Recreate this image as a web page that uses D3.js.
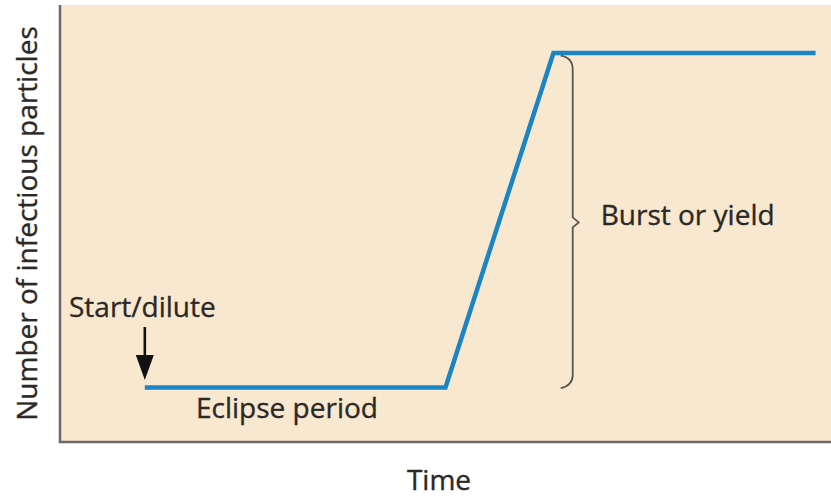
<!DOCTYPE html>
<html>
<head>
<meta charset="utf-8">
<script src="https://cdn.jsdelivr.net/npm/d3@7"></script>
<style>
  body { margin: 0; background: #fff; }
  svg text { font-family: "Open Sans", sans-serif; fill: #2b2826; stroke: #2b2826; stroke-width: 0.35; }
</style>
</head>
<body>
<div id="chart"></div>
<script>
// one-step growth curve (schematic, arbitrary units)
const times = [1.1, 5.0, 6.4, 9.8];
const particles = [1.25, 1.25, 8.9, 8.9];
const burstRange = [1.3, 8.75];
const labels = { x: "Time", y: "Number of infectious particles" };

const width = 831, height = 498;
const margin = { left: 60, top: 5, right: 0, bottom: 56 };
const fontSize = 28;

const svg = d3.select("#chart").append("svg")
  .attr("width", width).attr("height", height);

const x = d3.scaleLinear().domain([0, 10]).range([margin.left, width - margin.right]);
const y = d3.scaleLinear().domain([0, 10]).range([height - margin.bottom, margin.top]);

svg.append("rect")
  .attr("x", x(0)).attr("y", y(10))
  .attr("width", x(10) - x(0)).attr("height", y(0) - y(10))
  .attr("fill", "#f9e8d0");

// axes (no ticks)
svg.append("path")
  .attr("d", `M${x(0)},${y(10)}V${y(0)}H${x(10)}`)
  .attr("fill", "none").attr("stroke", "#6e6a66").attr("stroke-width", 2.5);

const pts = times.map((t, i) => [t, particles[i]]);
svg.append("path")
  .datum(pts)
  .attr("d", d3.line().x(d => x(d[0])).y(d => y(d[1])))
  .attr("fill", "none").attr("stroke", "#1a84c4").attr("stroke-width", 4.5)
  .attr("stroke-linejoin", "miter");

// curly brace for burst size
const bx = x(6.65), r = 10;
const yTop = y(burstRange[1]), yBot = y(burstRange[0]), yMid = (yTop + yBot) / 2;
svg.append("path")
  .attr("d", `M${bx - 12},${yTop - 4} Q${bx},${yTop - 2} ${bx},${yTop + r}
    V${yMid - 5} L${bx + 6},${yMid} L${bx},${yMid + 5}
    V${yBot - r} Q${bx},${yBot} ${bx - 12},${yBot + 3}`)
  .attr("fill", "none").attr("stroke", "#5a5650").attr("stroke-width", 1.8);

svg.append("text").attr("x", bx + 28).attr("y", 225)
  .attr("font-size", fontSize).text("Burst or yield");

// start arrow
const ax = x(times[0]);
svg.append("line")
  .attr("x1", ax).attr("x2", ax).attr("y1", 327).attr("y2", 360)
  .attr("stroke", "#111").attr("stroke-width", 2.6);
svg.append("path")
  .attr("d", `M${ax - 9},${355} L${ax + 9},${355} L${ax},${380} Z`)
  .attr("fill", "#111");
svg.append("text").attr("x", 69).attr("y", 317)
  .attr("font-size", fontSize).text("Start/dilute");

svg.append("text").attr("x", 196).attr("y", 418)
  .attr("font-size", fontSize).text("Eclipse period");

svg.append("text").attr("x", 439).attr("y", 490)
  .attr("text-anchor", "middle").attr("font-size", fontSize).text(labels.x);

svg.append("text")
  .attr("transform", `translate(37,${(y(0) + y(10)) / 2}) rotate(-90)`)
  .attr("text-anchor", "middle").attr("font-size", fontSize).text(labels.y);
</script>
</body>
</html>
